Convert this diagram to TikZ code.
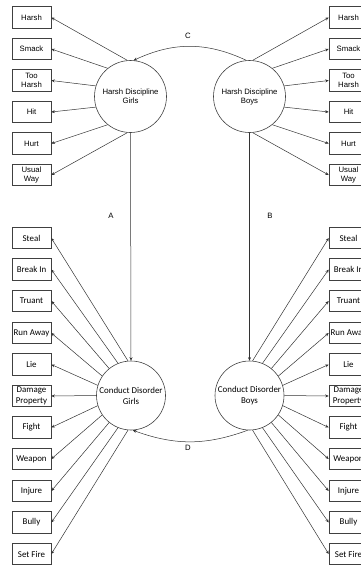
\documentclass[tikz,border=0pt]{standalone}
\usepackage{fontspec}
\setmainfont{Liberation Sans}
\newfontfamily\calibrifont{Carlito}
\usetikzlibrary{arrows.meta}

\begin{document}
\begin{tikzpicture}[x=1pt,y=-1pt,
  hbox/.style={draw=black!75,line width=0.6pt,minimum width=39pt,minimum height=21.5pt,inner sep=0pt,align=center,font=\fontsize{7.75}{9}\selectfont},
  cbox/.style={hbox,font=\calibrifont\fontsize{8.9}{11}\selectfont},
  hcirc/.style={circle,draw=black!75,line width=0.6pt,minimum size=72pt,inner sep=0pt,align=center,font=\fontsize{7.75}{9}\selectfont},
  ccirc/.style={hcirc,minimum size=69pt,font=\calibrifont\fontsize{8.9}{11}\selectfont},
  arr/.style={-{Stealth[length=3.5pt,width=3pt]},line width=0.5pt,draw=black!80},
  lbl/.style={font=\fontsize{7.75}{9}\selectfont}]
\useasboundingbox (0,0) rectangle (360,568);

\node[hcirc] (hdg) at (130.5,96.5) {Harsh Discipline\\Girls};
\node[hcirc] (hdb) at (249.5,96.5) {Harsh Discipline\\Boys};
\node[ccirc] (cdg) at (131,395.5) {Conduct Disorder\\Girls};
\node[ccirc] (cdb) at (249.5,395.5) {Conduct Disorder\\Boys};

%harsh discipline, girls
\node[hbox] (harshG) at (31.5,17.5) {Harsh};
\node[hbox] (smackG) at (31.5,49) {Smack};
\node[hbox] (tooG) at (31.5,80.5) {Too\\Harsh};
\node[hbox] (hitG) at (31.5,112) {Hit};
\node[hbox] (hurtG) at (31.5,143.5) {Hurt};
\node[hbox] (usualG) at (31.5,175) {Usual\\Way};
\draw[arr] (hdg.95) to (harshG.east);
\draw[arr] (hdg.129) to (smackG.east);
\draw[arr] (hdg.163) to (tooG.east);
\draw[arr] (hdg.197) to (hitG.east);
\draw[arr] (hdg.231) to (hurtG.east);
\draw[arr] (hdg.265) to (usualG.east);

%harsh discipline, boys
\node[hbox] (harshB) at (348.5,17.5) {Harsh};
\node[hbox] (smackB) at (348.5,49) {Smack};
\node[hbox] (tooB) at (348.5,80.5) {Too\\Harsh};
\node[hbox] (hitB) at (348.5,112) {Hit};
\node[hbox] (hurtB) at (348.5,143.5) {Hurt};
\node[hbox] (usualB) at (348.5,175) {Usual\\Way};
\draw[arr] (hdb.85) to (harshB.west);
\draw[arr] (hdb.51) to (smackB.west);
\draw[arr] (hdb.17) to (tooB.west);
\draw[arr] (hdb.-17) to (hitB.west);
\draw[arr] (hdb.-51) to (hurtB.west);
\draw[arr] (hdb.-85) to (usualB.west);

%conduct disorder, girls
\node[cbox] (stealG) at (31.5,238) {Steal};
\node[cbox] (breakG) at (31.5,269.5) {Break In};
\node[cbox] (truantG) at (31.5,301) {Truant};
\node[cbox] (runG) at (31.5,333) {Run Away};
\node[cbox] (lieG) at (31.5,364.5) {Lie};
\node[cbox] (damageG) at (31.5,396) {Damage\\Property};
\node[cbox] (fightG) at (31.5,427.5) {Fight};
\node[cbox] (weaponG) at (31.5,459) {Weapon};
\node[cbox] (injureG) at (31.5,491) {Injure};
\node[cbox] (bullyG) at (31.5,522.5) {Bully};
\node[cbox] (fireG) at (31.5,554) {Set Fire};
\draw[arr] (cdg.95) to (stealG.east);
\draw[arr] (cdg.112) to (breakG.east);
\draw[arr] (cdg.129) to (truantG.east);
\draw[arr] (cdg.146) to (runG.east);
\draw[arr] (cdg.163) to (lieG.east);
\draw[arr] (cdg.180) to (damageG.east);
\draw[arr] (cdg.197) to (fightG.east);
\draw[arr] (cdg.214) to (weaponG.east);
\draw[arr] (cdg.231) to (injureG.east);
\draw[arr] (cdg.248) to (bullyG.east);
\draw[arr] (cdg.265) to (fireG.east);

%conduct disorder, boys
\node[cbox] (stealB) at (348.5,238) {Steal};
\node[cbox] (breakB) at (348.5,269.5) {Break In};
\node[cbox] (truantB) at (348.5,301) {Truant};
\node[cbox] (runB) at (348.5,333) {Run Away};
\node[cbox] (lieB) at (348.5,364.5) {Lie};
\node[cbox] (damageB) at (348.5,396) {Damage\\Property};
\node[cbox] (fightB) at (348.5,427.5) {Fight};
\node[cbox] (weaponB) at (348.5,459) {Weapon};
\node[cbox] (injureB) at (348.5,491) {Injure};
\node[cbox] (bullyB) at (348.5,522.5) {Bully};
\node[cbox] (fireB) at (348.5,554) {Set Fire};
\draw[arr] (cdb.85) to (stealB.west);
\draw[arr] (cdb.68) to (breakB.west);
\draw[arr] (cdb.51) to (truantB.west);
\draw[arr] (cdb.34) to (runB.west);
\draw[arr] (cdb.17) to (lieB.west);
\draw[arr] (cdb.0) to (damageB.west);
\draw[arr] (cdb.-17) to (fightB.west);
\draw[arr] (cdb.-34) to (weaponB.west);
\draw[arr] (cdb.-51) to (injureB.west);
\draw[arr] (cdb.-68) to (bullyB.west);
\draw[arr] (cdb.-85) to (fireB.west);

%paths between the circles
\draw[arr] (hdg.south) to (cdg.north);
\draw[arr] (hdb.south) to (cdb.north);
\draw[arr,{Stealth[length=3.5pt,width=3pt]}-] (hdg.85) to[bend left=25] (hdb.95);
\draw[arr,{Stealth[length=3.5pt,width=3pt]}-] (cdg.-87) to[bend right=20] (cdb.-93);
\node[lbl] (labA) at (111,216) {A};
\node[lbl] (labB) at (270,216) {B};
\node[lbl] (labC) at (188,36) {C};
\node[lbl] (labD) at (188,448) {D};
\end{tikzpicture}
\end{document}
